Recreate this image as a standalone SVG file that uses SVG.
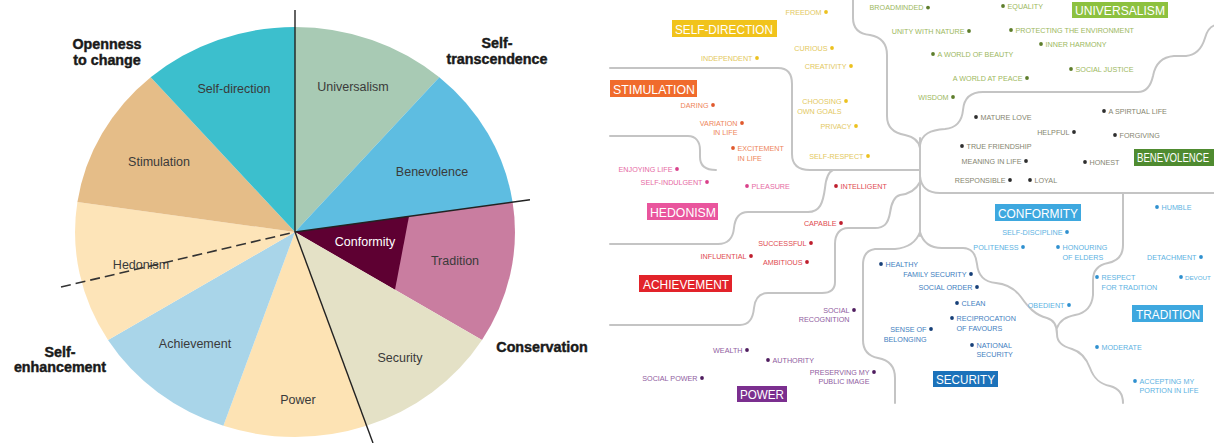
<svg xmlns="http://www.w3.org/2000/svg" width="1214" height="443" viewBox="0 0 1214 443">
<style>
.pl{font-family:"Liberation Sans",Arial,sans-serif;font-size:12.5px;fill:#3a3a3a;text-anchor:middle}
.bl{font-family:"Liberation Sans",Arial,sans-serif;font-size:14.3px;font-weight:bold;fill:#1a1a1a;stroke:#1a1a1a;stroke-width:0.45;text-anchor:middle}
.ax{stroke:#222;stroke-width:1.4;fill:none}
.ln{fill:none;stroke:#c4c4c4;stroke-width:2;stroke-linecap:round;stroke-linejoin:round}
.t{font-family:"Liberation Sans",Arial,sans-serif;font-size:7.2px}
.e{text-anchor:end}
.tag{font-family:"Liberation Sans",Arial,sans-serif;font-size:13.5px;fill:#fff}
.sd text.t{fill:#e3c85e}.sd circle{fill:#ecc11f}
.st text.t{fill:#ee855a}.st circle{fill:#e0592d}
.he text.t{fill:#e66aa3}.he circle{fill:#d9408a}
.ac text.t{fill:#e04a4f}.ac circle{fill:#be1e2d}
.pw text.t{fill:#8f5ca0}.pw circle{fill:#4f1d5f}
.se text.t{fill:#3f80c0}.se circle{fill:#163f78}
.co text.t,.tr text.t{fill:#5db2e2}.co circle,.tr circle{fill:#2f90cf}
.un text.t{fill:#9cb85e}.un circle{fill:#5d7d2b}
.be text.t{fill:#85856f}.be circle{fill:#2e2e2e}
</style>
<rect width="1214" height="443" fill="#fff"/>

<!-- Pie chart -->
<g id="pie">
<g id="w-universalism"><path d="M295,232 L295,27 A220,205 0 0 1 439.3,77.3 Z" fill="#a8cab4"/><text class="pl" x="353" y="90.5">Universalism</text></g>
<g id="w-benevolence"><path d="M295,232 L439.3,77.3 A220,205 0 0 1 512.6,202.1 Z" fill="#5ebde1"/><text class="pl" x="432" y="175.5">Benevolence</text></g>
<g id="w-tradition"><path d="M295,232 L512.6,202.1 A220,205 0 0 1 482,340 Z" fill="#c97da0"/><text class="pl" x="455" y="264.5">Tradition</text></g>
<g id="w-conformity"><path d="M295,232 L409,216.3 L395,289.8 Z" fill="#5e0032"/><text class="pl" x="365" y="246" style="fill:#fff">Conformity</text></g>
<g id="w-security"><path d="M295,232 L482,340 A220,205 0 0 1 366.6,425.8 Z" fill="#e4e1c6"/><text class="pl" x="400" y="361.5">Security</text></g>
<g id="w-power"><path d="M295,232 L366.6,425.8 A220,205 0 0 1 223.4,425.8 Z" fill="#fde3b4"/><text class="pl" x="298" y="404">Power</text></g>
<g id="w-achievement"><path d="M295,232 L223.4,425.8 A220,205 0 0 1 108,340 Z" fill="#a9d5e9"/><text class="pl" x="195" y="347.5">Achievement</text></g>
<g id="w-hedonism"><path d="M295,232 L108,340 A220,205 0 0 1 77.4,202.1 Z" fill="#fde4b8"/><text class="pl" x="141" y="268.5">Hedonism</text></g>
<g id="w-stimulation"><path d="M295,232 L77.4,202.1 A220,205 0 0 1 150.7,77.3 Z" fill="#e5bd88"/><text class="pl" x="159" y="165.5">Stimulation</text></g>
<g id="w-selfdirection"><path d="M295,232 L150.7,77.3 A220,205 0 0 1 295,27 Z" fill="#3cbfcd"/><text class="pl" x="234" y="93">Self-direction</text></g>
<g id="axes">
<line class="ax" x1="295" y1="10" x2="295" y2="232"/>
<line class="ax" x1="295" y1="232" x2="530" y2="199.7"/>
<line class="ax" x1="295" y1="232" x2="373" y2="443"/>
<line class="ax" x1="61" y1="287" x2="295" y2="232" stroke-dasharray="10,5" style="stroke:#333;stroke-width:1.6"/>
</g>
<g id="dimensions">
<text class="bl" x="107" y="49">Openness</text><text class="bl" x="107" y="65">to change</text>
<text class="bl" x="497" y="48">Self-</text><text class="bl" x="497" y="64">transcendence</text>
<text class="bl" x="542" y="352">Conservation</text>
<text class="bl" x="60" y="357">Self-</text><text class="bl" x="60" y="372">enhancement</text>
</g>
</g>

<!-- Map connectors -->
<g id="connectors">
<path class="ln" d="M610,68 H778 C788,68 792,74 792,84 V154 C792,164 797,170 810,170 H920"/>
<path class="ln" d="M610,136 H688 C696,136 700,142 700,150 V157 C700,166 706,170 716,170"/>
<path class="ln" d="M833,170 C828,172 826,178 825,188 C823,203 820,212 808,212 H748 C739,212 735,218 734,228 C733,238 728,244 718,244 H610"/>
<path class="ln" d="M920,182 C916,190 908,194 900,195 C893,197 891,205 890,213 C888,224 884,228 875,228 H848 C840,228 835,234 835,244 V282 C835,289 831,293 822,293 H768 C760,293 755,298 754,308 C753,319 749,325 740,325 H610"/>
<path class="ln" d="M920,232 C916,243 906,248 895,249 H875 C867,250 863,256 863,265 V340 C863,350 868,356 878,358 C889,360 895,366 895,378 V403"/>
<path class="ln" d="M920,232 C923,243 930,248 942,248 H963 C971,248 976,254 977,264 C978,275 984,282 996,283 C1007,284 1015,289 1021,297 C1028,307 1035,315 1047,318 C1054,320 1057,326 1057,334 C1057,342 1062,346 1072,349 C1082,352 1087,360 1090,368 C1094,379 1100,384 1110,386 C1118,388 1123,394 1123,403"/>
<path class="ln" d="M1057,328 C1060,320 1066,317 1075,315 C1086,313 1092,306 1093,295 V280 C1093,270 1098,265 1108,263 C1118,261 1123,255 1123,245 V193"/>
<path class="ln" d="M920,176 C921,187 928,193 940,193 H1216"/>
<path class="ln" d="M920,145 C922,134 930,130 945,129 C956,128 962,121 963,110 C964,98 970,92 983,92 H1138 C1147,92 1151,85 1153,76 C1155,65 1161,57 1174,56 H1186 C1197,55 1202,48 1205,38 C1207,31 1210,26 1216,25"/>
<path class="ln" d="M853,-2 V18 C853,28 859,34 870,35 C881,37 887,44 887,55 V116 C887,127 893,133 905,135 C914,137 919,141 920,148"/>
<path class="ln" d="M920,138 V236"/>
</g>

<!-- Value groups -->
<g id="self-direction" class="sd">
<rect x="672" y="20" width="105" height="17" fill="#f1c31c"/><text class="tag" x="675" y="33.5" textLength="98" lengthAdjust="spacingAndGlyphs">SELF-DIRECTION</text>
<text class="t e" x="821.5" y="14.6">FREEDOM</text><circle cx="826" cy="12" r="1.9"/>
<text class="t e" x="827.5" y="50.6">CURIOUS</text><circle cx="832" cy="48" r="1.9"/>
<text class="t e" x="752.5" y="60.6">INDEPENDENT</text><circle cx="757" cy="58" r="1.9"/>
<text class="t e" x="846.5" y="68.6">CREATIVITY</text><circle cx="851" cy="66" r="1.9"/>
<text class="t e" x="841.5" y="103.6">CHOOSING</text><text class="t e" x="841.5" y="113.6">OWN GOALS</text><circle cx="846" cy="101" r="1.9"/>
<text class="t e" x="851.5" y="128.6">PRIVACY</text><circle cx="856" cy="126" r="1.9"/>
<text class="t e" x="863.5" y="158.6">SELF-RESPECT</text><circle cx="868" cy="156" r="1.9"/>
</g>
<g id="stimulation" class="st">
<rect x="610" y="80" width="87" height="17" fill="#f06b2c"/><text class="tag" x="613" y="93.5" textLength="82" lengthAdjust="spacingAndGlyphs">STIMULATION</text>
<text class="t e" x="708.5" y="107.6">DARING</text><circle cx="713" cy="105" r="1.9"/>
<text class="t e" x="737.5" y="125.6">VARIATION</text><text class="t e" x="737.5" y="134.6">IN LIFE</text><circle cx="742" cy="123" r="1.9"/>
<circle cx="733" cy="148" r="1.9"/><text class="t" x="737.5" y="150.6">EXCITEMENT</text><text class="t" x="737.5" y="160.6">IN LIFE</text>
</g>
<g id="hedonism" class="he">
<rect x="647" y="203" width="71" height="17" fill="#e9559d"/><text class="tag" x="650" y="216.5" textLength="66" lengthAdjust="spacingAndGlyphs">HEDONISM</text>
<text class="t e" x="672.5" y="171.6">ENJOYING LIFE</text><circle cx="677" cy="169" r="1.9"/>
<text class="t e" x="702.5" y="184.6">SELF-INDULGENT</text><circle cx="707" cy="182" r="1.9"/>
<circle cx="747" cy="186" r="1.9"/><text class="t" x="751.5" y="188.6">PLEASURE</text>
</g>
<g id="achievement" class="ac">
<rect x="639" y="275" width="93" height="17" fill="#e2232a"/><text class="tag" x="643" y="288.5" textLength="86" lengthAdjust="spacingAndGlyphs">ACHIEVEMENT</text>
<circle cx="836" cy="186" r="1.9"/><text class="t" x="840.5" y="188.6">INTELLIGENT</text>
<text class="t e" x="836.5" y="225.6">CAPABLE</text><circle cx="841" cy="223" r="1.9"/>
<text class="t e" x="806.5" y="245.6">SUCCESSFUL</text><circle cx="811" cy="243" r="1.9"/>
<text class="t e" x="746.5" y="258.6">INFLUENTIAL</text><circle cx="751" cy="256" r="1.9"/>
<text class="t e" x="802.5" y="264.6">AMBITIOUS</text><circle cx="807" cy="262" r="1.9"/>
</g>
<g id="power" class="pw">
<rect x="737" y="386" width="50" height="16" fill="#7b2f8f"/><text class="tag" x="740" y="399" textLength="44" lengthAdjust="spacingAndGlyphs">POWER</text>
<text class="t e" x="849.5" y="312.6">SOCIAL</text><text class="t e" x="849.5" y="321.6">RECOGNITION</text><circle cx="854" cy="310" r="1.9"/>
<text class="t e" x="742.5" y="352.6">WEALTH</text><circle cx="747" cy="350" r="1.9"/>
<circle cx="768" cy="360" r="1.9"/><text class="t" x="772.5" y="362.6">AUTHORITY</text>
<text class="t e" x="869.5" y="374.6">PRESERVING MY</text><text class="t e" x="869.5" y="383.6">PUBLIC IMAGE</text><circle cx="874" cy="372" r="1.9"/>
<text class="t e" x="697.5" y="380.6">SOCIAL POWER</text><circle cx="702" cy="378" r="1.9"/>
</g>
<g id="security" class="se">
<rect x="933" y="371" width="65" height="16" fill="#1c72ba"/><text class="tag" x="936" y="384" textLength="59" lengthAdjust="spacingAndGlyphs">SECURITY</text>
<circle cx="881" cy="264" r="1.9"/><text class="t" x="885.5" y="266.6">HEALTHY</text>
<text class="t e" x="966.5" y="276.6">FAMILY SECURITY</text><circle cx="971" cy="274" r="1.9"/>
<text class="t e" x="972.5" y="289.6">SOCIAL ORDER</text><circle cx="977" cy="287" r="1.9"/>
<circle cx="957" cy="303" r="1.9"/><text class="t" x="961.5" y="305.6">CLEAN</text>
<circle cx="952" cy="318" r="1.9"/><text class="t" x="956.5" y="320.6">RECIPROCATION</text><text class="t" x="956.5" y="330.6">OF FAVOURS</text>
<text class="t e" x="926.5" y="331.6">SENSE OF</text><text class="t e" x="926.5" y="341.6">BELONGING</text><circle cx="931" cy="329" r="1.9"/>
<circle cx="972" cy="345" r="1.9"/><text class="t" x="976.5" y="347.6">NATIONAL</text><text class="t" x="976.5" y="356.6">SECURITY</text>
</g>
<g id="conformity" class="co">
<rect x="995" y="204" width="86" height="17" fill="#3ea8df"/><text class="tag" x="998" y="217.5" textLength="80" lengthAdjust="spacingAndGlyphs">CONFORMITY</text>
<text class="t e" x="1062.5" y="234.6">SELF-DISCIPLINE</text><circle cx="1067" cy="232" r="1.9"/>
<text class="t e" x="1018.5" y="249.6">POLITENESS</text><circle cx="1023" cy="247" r="1.9"/>
<circle cx="1058" cy="247" r="1.9"/><text class="t" x="1062.5" y="249.6">HONOURING</text><text class="t" x="1062.5" y="259.6">OF ELDERS</text>
<text class="t e" x="1064.5" y="307.6">OBEDIENT</text><circle cx="1069" cy="305" r="1.9"/>
</g>
<g id="tradition" class="tr">
<rect x="1132" y="305" width="71" height="17" fill="#3ea8df"/><text class="tag" x="1136" y="318.5" textLength="64" lengthAdjust="spacingAndGlyphs">TRADITION</text>
<circle cx="1157" cy="207" r="1.9"/><text class="t" x="1161.5" y="209.6">HUMBLE</text>
<text class="t e" x="1196.5" y="259.6">DETACHMENT</text><circle cx="1201" cy="257" r="1.9"/>
<circle cx="1097" cy="277" r="1.9"/><text class="t" x="1101.5" y="279.6">RESPECT</text><text class="t" x="1101.5" y="289.6">FOR TRADITION</text>
<circle cx="1181" cy="277" r="1.9"/><text class="t" x="1185" y="279.6" style="font-size:6.2px">DEVOUT</text>
<circle cx="1097" cy="347" r="1.9"/><text class="t" x="1101.5" y="349.6">MODERATE</text>
<circle cx="1135" cy="381" r="1.9"/><text class="t" x="1139.5" y="383.6">ACCEPTING MY</text><text class="t" x="1139.5" y="392.6">PORTION IN LIFE</text>
</g>
<g id="universalism" class="un">
<rect x="1072" y="2" width="96" height="16" fill="#8dc13f"/><text class="tag" x="1075" y="15" textLength="90" lengthAdjust="spacingAndGlyphs">UNIVERSALISM</text>
<text class="t e" x="923.5" y="10.2">BROADMINDED</text><circle cx="928" cy="7.6" r="1.9"/>
<circle cx="1003" cy="6" r="1.9"/><text class="t" x="1007.5" y="8.6">EQUALITY</text>
<text class="t e" x="964.5" y="33.6">UNITY WITH NATURE</text><circle cx="969" cy="31" r="1.9"/>
<circle cx="1011" cy="30" r="1.9"/><text class="t" x="1015.5" y="32.6">PROTECTING THE ENVIRONMENT</text>
<circle cx="1041" cy="44" r="1.9"/><text class="t" x="1045.5" y="46.6">INNER HARMONY</text>
<circle cx="933" cy="54" r="1.9"/><text class="t" x="937.5" y="56.6">A WORLD OF BEAUTY</text>
<circle cx="1071" cy="69" r="1.9"/><text class="t" x="1075.5" y="71.6">SOCIAL JUSTICE</text>
<text class="t e" x="1022.5" y="80.6">A WORLD AT PEACE</text><circle cx="1027" cy="78" r="1.9"/>
<text class="t e" x="948.5" y="99.6">WISDOM</text><circle cx="953" cy="97" r="1.9"/>
</g>
<g id="benevolence" class="be">
<rect x="1134" y="149" width="80" height="17" fill="#4f8b30"/><text class="tag" transform="translate(1137,162) scale(0.77,1)" x="0" y="0" style="font-size:12.5px">BENEVOLENCE</text>
<circle cx="976" cy="117" r="1.9"/><text class="t" x="980.5" y="119.6">MATURE LOVE</text>
<circle cx="1104" cy="111" r="1.9"/><text class="t" x="1108.5" y="113.6">A SPIRTUAL LIFE</text>
<text class="t e" x="1069.5" y="134.6">HELPFUL</text><circle cx="1074" cy="132" r="1.9"/>
<circle cx="1115" cy="135" r="1.9"/><text class="t" x="1119.5" y="137.6">FORGIVING</text>
<circle cx="962" cy="146" r="1.9"/><text class="t" x="966.5" y="148.6">TRUE FRIENDSHIP</text>
<text class="t e" x="1021.5" y="163.6">MEANING IN LIFE</text><circle cx="1026" cy="161" r="1.9"/>
<circle cx="1085" cy="162" r="1.9"/><text class="t" x="1089.5" y="164.6">HONEST</text>
<text class="t e" x="1005.5" y="182.6">RESPONSIBLE</text><circle cx="1010" cy="180" r="1.9"/>
<circle cx="1030" cy="180" r="1.9"/><text class="t" x="1034.5" y="182.6">LOYAL</text>
</g>
</svg>
